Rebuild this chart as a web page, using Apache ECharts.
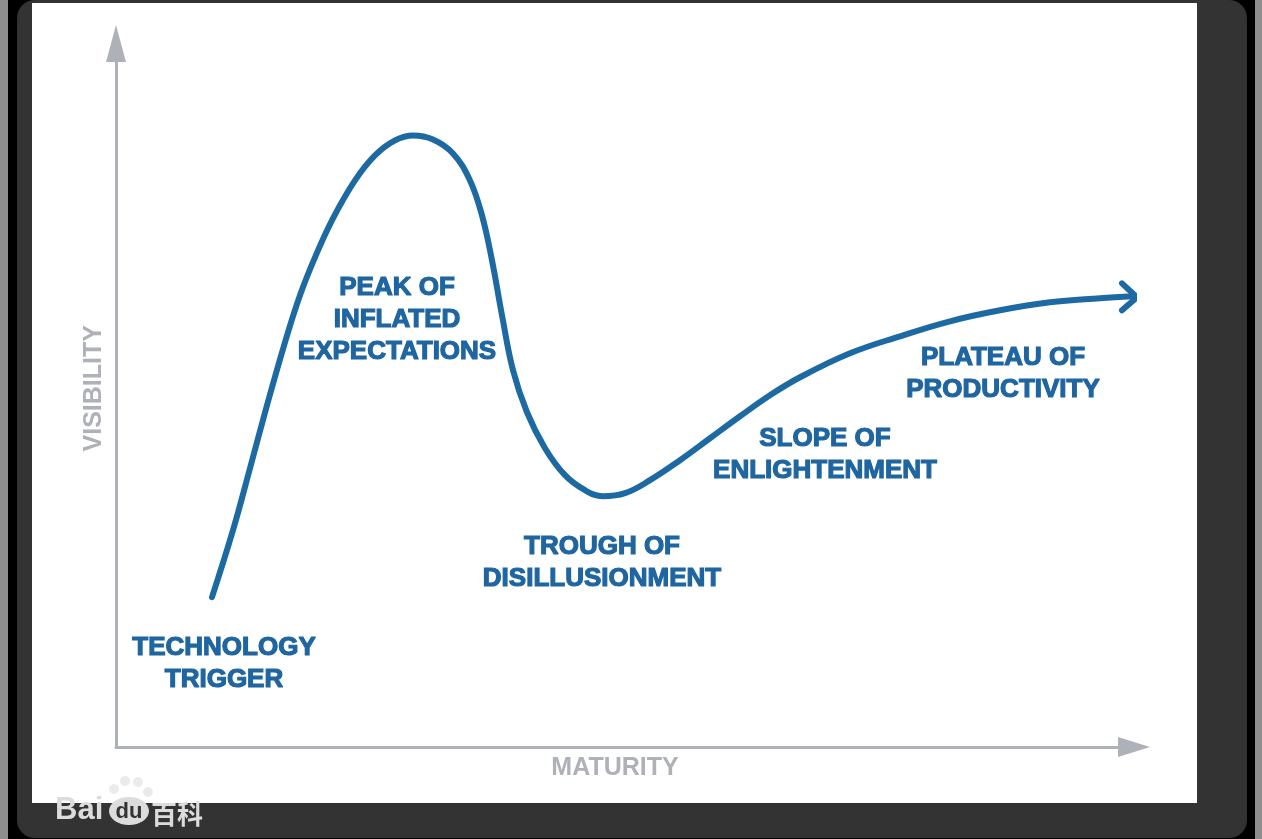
<!DOCTYPE html>
<html>
<head>
<meta charset="utf-8">
<script src="https://cdn.jsdelivr.net/npm/echarts@6/dist/echarts.min.js"></script>
<style>
html,body{margin:0;padding:0;background:#000;}
#chart{width:1262px;height:839px;}
</style>
</head>
<body>
<div id="chart"></div>
<script>
// Hype-cycle curve (maturity, visibility) in arbitrary axis units
const maturity = [96,117,134,151,169,184,199,217,239,259,279,297,317,337,354,366,376,386,397,411,429,449,469,487,509,534,564,594,624,654,684,734,784,834,884,934,984,1017];
const visibility = [150,217,279,342,405,452,490,529,567,592,607,612,608,594,567,532,487,432,377,335,299,272,257,251,254,267,287,309,331,352,370,394,411,426,437,445,449,451];
// open arrow head at the end of the curve
const arrowX = [1006,1021,1006];
const arrowY = [464,450,437];
// phase labels
const phaseNames = ['TECHNOLOGY\nTRIGGER','PEAK OF\nINFLATED\nEXPECTATIONS','TROUGH OF\nDISILLUSIONMENT','SLOPE OF\nENLIGHTENMENT','PLATEAU OF\nPRODUCTIVITY'];
const phaseX = [108,281,486,709,887];
const phaseY = [83,427,184,292,373];
const xAxisName = 'MATURITY';
const yAxisName = 'VISIBILITY';

const BLUE = '#1d6aa3';
const TEXTBLUE = '#1f65a0';
const GRAY = '#aeb2b8';

const chart = echarts.init(document.getElementById('chart'), null, {renderer:'canvas'});
const option = {
  backgroundColor: '#000',
  animation: false,
  grid: {left:116, right:128, top:43.5, bottom:92, outerBoundsMode:'none', containLabel:false},
  xAxis: {
    type:'value', min:0, max:1018,
    name: xAxisName, nameLocation:'middle', nameGap:9,
    nameTextStyle:{color:GRAY, fontSize:25, fontWeight:'bold', fontFamily:'Liberation Sans, Arial, sans-serif', padding:[0,20,0,0]},
    axisLine:{show:true, symbol:['none','triangle'], symbolSize:[20,32], lineStyle:{color:GRAY, width:3}},
    axisTick:{show:false}, axisLabel:{show:false}, splitLine:{show:false}
  },
  yAxis: {
    type:'value', min:0, max:704,
    name: yAxisName, nameLocation:'middle', nameGap:9, nameRotate:90,
    nameTextStyle:{color:GRAY, fontSize:25, fontWeight:'bold', fontFamily:'Liberation Sans, Arial, sans-serif', padding:[0,0,0,14]},
    axisLine:{show:true, onZero:false, symbol:['none','triangle'], symbolSize:[20,37], lineStyle:{color:GRAY, width:3}},
    axisTick:{show:false}, axisLabel:{show:false}, splitLine:{show:false}
  },
  graphic: [
    {type:'rect', z:-10, silent:true, shape:{x:0,y:0,width:8,height:839}, style:{fill:'#8e8e8e'}},
    {type:'rect', z:-10, silent:true, shape:{x:1255,y:0,width:7,height:839}, style:{fill:'#8e8e8e'}},
    {type:'rect', z:-9, silent:true, shape:{x:17,y:0,width:1230,height:838,r:18}, style:{fill:'#333333'}},
    {type:'rect', z:-8, silent:true, shape:{x:32,y:3,width:1165,height:800}, style:{fill:'#ffffff'}},
    // watermark
    {type:'text', z:50, silent:true, style:{x:55, y:826, text:'Bai', fill:'#dcdcdc', font:'bold 31px "Liberation Sans", Arial, sans-serif', textVerticalAlign:'bottom'}},
    {type:'circle', z:50, silent:true, shape:{cx:114,cy:789,r:5}, style:{fill:'rgba(230,230,230,0.8)'}},
    {type:'circle', z:50, silent:true, shape:{cx:125,cy:781,r:5}, style:{fill:'rgba(230,230,230,0.8)'}},
    {type:'circle', z:50, silent:true, shape:{cx:138,cy:782,r:5}, style:{fill:'rgba(230,230,230,0.8)'}},
    {type:'circle', z:50, silent:true, shape:{cx:148,cy:792,r:5}, style:{fill:'rgba(230,230,230,0.8)'}},
    {type:'ellipse', z:50, silent:true, shape:{cx:129,cy:811,rx:20,ry:14}, style:{fill:'#dcdcdc'}},
    {type:'text', z:51, silent:true, style:{x:129, y:823, text:'du', fill:'#333', font:'bold 22px "Liberation Sans", Arial, sans-serif', textAlign:'center', textVerticalAlign:'bottom'}},
    {type:'text', z:50, silent:true, style:{x:151, y:827, text:'百科', fill:'#dcdcdc', font:'bold 26px "Noto Sans CJK SC", sans-serif', textVerticalAlign:'bottom'}}
  ],
  series: [
    {
      type:'line', clip:false, smooth:0.4, symbol:'none',
      data: maturity.map((x,i)=>[x, visibility[i]]),
      lineStyle:{color:BLUE, width:6, cap:'round', join:'round'}
    },
    {
      type:'line', clip:false, smooth:false, symbol:'none',
      data: arrowX.map((x,i)=>[x, arrowY[i]]),
      lineStyle:{color:BLUE, width:6, cap:'round', join:'round'}
    },
    {
      type:'scatter', clip:false, symbolSize:0.1, itemStyle:{color:TEXTBLUE, opacity:1},
      data: phaseNames.map((n,i)=>({name:n, value:[phaseX[i], phaseY[i]]})),
      label:{show:true, position:'inside', formatter:p=>p.name, color:TEXTBLUE,
        textBorderColor:TEXTBLUE, textBorderWidth:1.2,
        fontSize:26, fontWeight:'bold', fontFamily:'Liberation Sans, Arial, sans-serif', lineHeight:32, align:'center', verticalAlign:'middle'}
    }
  ]
};
chart.setOption(option);
</script>
</body>
</html>
